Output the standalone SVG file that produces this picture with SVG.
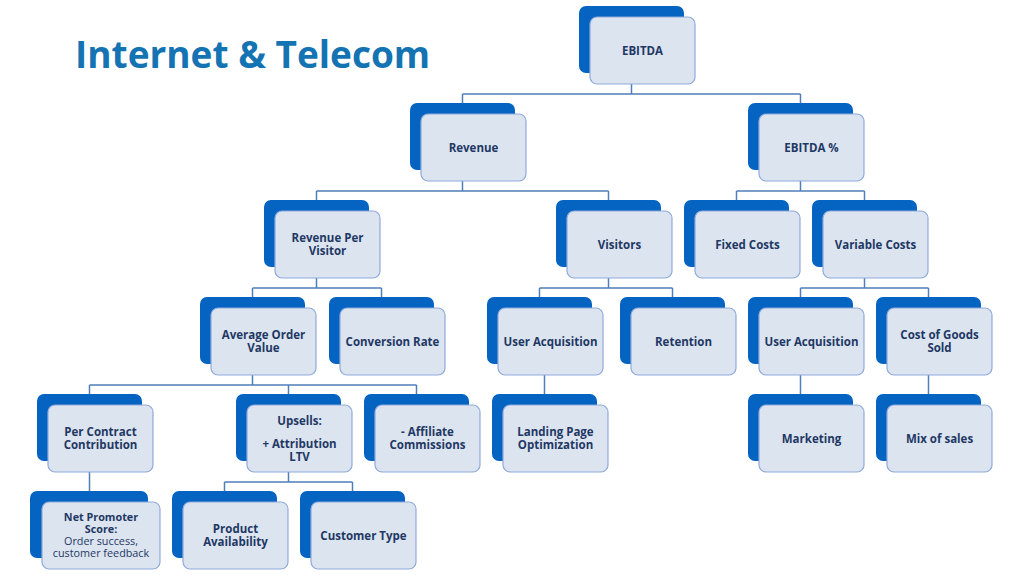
<svg xmlns="http://www.w3.org/2000/svg" width="1024" height="576" viewBox="0 0 1024 576">
<style>
.b{fill:#0563C1}
.f{fill:#DCE4F0;stroke:#8FAADC;stroke-width:1.2}
text{font-family:"Open Sans","Noto Sans",sans-serif;font-size:11.5px;font-weight:bold;fill:#1F3864;text-anchor:middle}
.s{font-size:10.8px}
.n{font-weight:normal}
.c{fill:none;stroke:#4F7FB8;stroke-width:1.5}
</style>
<rect width="1024" height="576" fill="#fff"/>
<text x="75" y="68" style="font-size:37px;fill:#1473B2;text-anchor:start">Internet &amp; Telecom</text>
<g id="connectors" class="c">
<path d="M631.5 84V94M462.5 94H800.5M462.5 94V103M800.5 94V103"/>
<path d="M462.5 181V191M316.5 191H608.5M316.5 191V200M608.5 191V200"/>
<path d="M800.5 181V191M736.5 191H864.5M736.5 191V200M864.5 191V200"/>
<path d="M316.5 278V288M252.5 288H381.5M252.5 288V297M381.5 288V297"/>
<path d="M608.5 278V288M539.5 288H672.5M539.5 288V297M672.5 288V297"/>
<path d="M864.5 278V288M800.5 288H928.5M800.5 288V297M928.5 288V297"/>
<path d="M252.5 375V385M89.5 385H416.5M89.5 385V394M288.5 385V394M416.5 385V394"/>
<path d="M544.5 375V394M800.5 375V394M928.5 375V394"/>
<path d="M89.5 472V491M288.5 472V482M224.5 482H352.5M224.5 482V491M352.5 482V491"/>
</g>
<defs>
<g id="box"><rect class="b" x="0" y="0" width="105" height="67" rx="7"/><rect class="f" x="11" y="11" width="105" height="67" rx="7"/></g>
</defs>
<g id="ebitda" transform="translate(579,6)"><use href="#box"/><text x="63.5" y="48.5">EBITDA</text></g>
<g id="revenue" transform="translate(410,103)"><use href="#box"/><text x="63.5" y="48.5">Revenue</text></g>
<g id="ebitdapct" transform="translate(748,103)"><use href="#box"/><text x="63.5" y="48.5">EBITDA %</text></g>
<g id="rpv" transform="translate(264,200)"><use href="#box"/><text x="63.5" y="42">Revenue Per</text><text x="63.5" y="54.5">Visitor</text></g>
<g id="visitors" transform="translate(556,200)"><use href="#box"/><text x="63.5" y="48.5">Visitors</text></g>
<g id="fixed" transform="translate(684,200)"><use href="#box"/><text x="63.5" y="48.5">Fixed Costs</text></g>
<g id="variable" transform="translate(812,200)"><use href="#box"/><text x="63.5" y="48.5">Variable Costs</text></g>
<g id="aov" transform="translate(200,297)"><use href="#box"/><text x="63.5" y="42">Average Order</text><text x="63.5" y="54.5">Value</text></g>
<g id="conv" transform="translate(329,297)"><use href="#box"/><text x="63.5" y="48.5">Conversion Rate</text></g>
<g id="ua1" transform="translate(487,297)"><use href="#box"/><text x="63.5" y="48.5">User Acquisition</text></g>
<g id="retention" transform="translate(620,297)"><use href="#box"/><text x="63.5" y="48.5">Retention</text></g>
<g id="ua2" transform="translate(748,297)"><use href="#box"/><text x="63.5" y="48.5">User Acquisition</text></g>
<g id="cogs" transform="translate(876,297)"><use href="#box"/><text x="63.5" y="42">Cost of Goods</text><text x="63.5" y="54.5">Sold</text></g>
<g id="percontract" transform="translate(37,394)"><use href="#box"/><text x="63.5" y="42">Per Contract</text><text x="63.5" y="54.5">Contribution</text></g>
<g id="upsells" transform="translate(236,394)"><use href="#box"/><text x="63.5" y="30.5">Upsells:</text><text x="63.5" y="54">+ Attribution</text><text x="63.5" y="66.5">LTV</text></g>
<g id="affiliate" transform="translate(364,394)"><use href="#box"/><text x="63.5" y="42">- Affiliate</text><text x="63.5" y="54.5">Commissions</text></g>
<g id="landing" transform="translate(492,394)"><use href="#box"/><text x="63.5" y="42">Landing Page</text><text x="63.5" y="54.5">Optimization</text></g>
<g id="marketing" transform="translate(748,394)"><use href="#box"/><text x="63.5" y="48.5">Marketing</text></g>
<g id="mix" transform="translate(876,394)"><use href="#box"/><text x="63.5" y="48.5">Mix of sales</text></g>
<g id="nps" transform="translate(30,491)"><rect class="b" x="0" y="0" width="118" height="67" rx="7"/><rect class="f" x="12" y="11" width="118" height="67" rx="7"/><text class="s" x="71" y="30">Net Promoter</text><text class="s" x="71" y="42">Score:</text><text class="s n" x="71" y="54">Order success,</text><text class="s n" x="71" y="66">customer feedback</text></g>
<g id="product" transform="translate(172,491)"><use href="#box"/><text x="63.5" y="42">Product</text><text x="63.5" y="54.5">Availability</text></g>
<g id="custtype" transform="translate(300,491)"><use href="#box"/><text x="63.5" y="48.5">Customer Type</text></g>
</svg>
